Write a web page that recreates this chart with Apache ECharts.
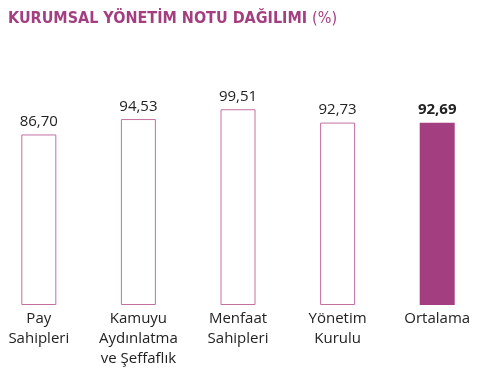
<!DOCTYPE html>
<html><head><meta charset="utf-8">
<script src="https://cdn.jsdelivr.net/npm/echarts@6/dist/echarts.min.js"></script>
<style>html,body{margin:0;padding:0;background:#fff}#c{width:502px;height:371px}</style>
</head><body><div id="c"></div>
<script>
const categories = ['Pay\nSahipleri', 'Kamuyu\nAydınlatma\nve Şeffaflık', 'Menfaat\nSahipleri', 'Yönetim\nKurulu', 'Ortalama'];
const values = [86.70, 94.53, 99.51, 92.73, 92.69];
const titleMain = 'KURUMSAL YÖNETİM NOTU DAĞILIMI';
const titleUnit = '(%)';

const purple = '#a33f80';
const outline = '#c46fa2';
const fmt = v => v.toFixed(2).replace('.', ',');
const tfont = "'DejaVu Sans Condensed', Roboto, sans-serif";

const chart = echarts.init(document.getElementById('c'), null, {renderer: 'canvas'});
chart.setOption({
  animation: false,
  title: {
    text: '{a|' + titleMain + '} {b|' + titleUnit + '}',
    left: 3, top: 5,
    textStyle: {
      rich: {
        a: {fontFamily: tfont, fontWeight: 'bold', fontSize: 16, color: purple},
        b: {fontFamily: tfont, fontWeight: 'normal', fontSize: 16, color: purple}
      }
    }
  },
  grid: {left: -11, width: 498, top: 108.3, bottom: 66, containLabel: false, outerBoundsMode: 'none'},
  xAxis: {
    type: 'category', data: categories,
    axisLine: {show: false}, axisTick: {show: false},
    axisLabel: {color: '#222', fontFamily: 'Open Sans', fontSize: 15, lineHeight: 20, margin: 4, interval: 0}
  },
  yAxis: {type: 'value', min: 0, max: 100, show: false, splitLine: {show: false}},
  series: [{
    type: 'bar', barWidth: 35,
    data: values.map((v, i) => {
      const last = i === values.length - 1;
      return {
        value: v,
        itemStyle: last ? {color: purple, borderWidth: 0} : {color: '#fff', borderColor: outline, borderWidth: 1},
        label: {fontWeight: last ? 'bold' : 'normal'}
      };
    }),
    label: {show: true, position: 'top', distance: 5, color: '#222', fontFamily: 'Open Sans', fontSize: 15, formatter: p => fmt(p.value)}
  }]
});
</script></body></html>
